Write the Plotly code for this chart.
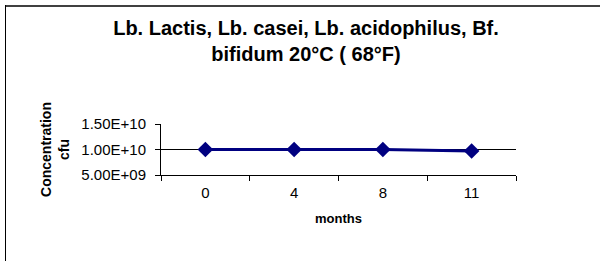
import plotly.graph_objects as go

# ---- data ----
months = ["0", "4", "8", "11"]
concentration = [1.0e10, 1.0e10, 1.0e10, 9.7e9]
y_tick_vals = [5.0e9, 1.0e10, 1.5e10]
y_tick_text = ["5.00E+09", "1.00E+10", "1.50E+10"]
grid_value = 1.0e10
title_text = "Lb. Lactis, Lb. casei, Lb. acidophilus, Bf.<br>bifidum 20°C ( 68°F)"

W, H = 600, 261
ML, MR, MT, MB = 161, 84, 124, 86
PW = W - ML - MR
PH = H - MT - MB

def px_x(x):
    return (x - ML) / PW

def px_y(y):
    return (H - MB - y) / PH

FONT = "Liberation Sans, Arial, sans-serif"

fig = go.Figure()
fig.add_trace(go.Scatter(
    x=months, y=concentration, mode="lines+markers",
    line=dict(color="#000080", width=3),
    marker=dict(symbol="diamond", size=12, color="#000080"),
    showlegend=False, cliponaxis=False,
))

shapes = [
    # gridline at 1.00E+10
    dict(type="line", xref="paper", yref="y", x0=0, x1=1, y0=grid_value, y1=grid_value,
         line=dict(color="#000000", width=1), layer="below"),
    # chart frame: top (grey) and left (black)
    dict(type="line", xref="paper", yref="paper", x0=px_x(5), x1=px_x(600),
         y0=px_y(6), y1=px_y(6), line=dict(color="#404040", width=2)),
    dict(type="line", xref="paper", yref="paper", x0=px_x(5.5), x1=px_x(5.5),
         y0=px_y(5), y1=px_y(262), line=dict(color="#000000", width=1)),
]

fig.update_layout(
    width=W, height=H,
    margin=dict(l=ML, r=MR, t=MT, b=MB, autoexpand=False),
    paper_bgcolor="white", plot_bgcolor="white",
    font=dict(family=FONT, color="black", size=14),
    title=dict(text=title_text, x=0.51, xref="container", y=1 - 35 / H,
               yref="container", yanchor="top",
               font=dict(family=FONT, size=20, color="black", weight="bold")),
    shapes=shapes,
    xaxis=dict(
        type="category", range=[-0.5, len(months) - 0.5], automargin=False,
        showline=True, linecolor="black", linewidth=1,
        ticks="outside", tickson="boundaries", ticklen=5, tickcolor="black",
        ticklabelstandoff=4,
        showgrid=False, zeroline=False,
        tickfont=dict(family=FONT, size=15, color="black"),
        title=dict(text="months", standoff=13,
                   font=dict(family=FONT, size=13, color="black", weight="bold")),
    ),
    yaxis=dict(
        range=[y_tick_vals[0], y_tick_vals[-1]], automargin=False,
        tickvals=y_tick_vals, ticktext=y_tick_text,
        showline=True, linecolor="black", linewidth=1,
        ticks="outside", ticklen=5, tickcolor="black", ticklabelstandoff=6,
        showgrid=False, zeroline=False,
        tickfont=dict(family=FONT, size=15, color="black"),
        title=dict(text="Concentration<br>cfu", standoff=8,
                   font=dict(family=FONT, size=14, color="black", weight="bold")),
    ),
)

fig.write_html("out.html",
               config={"displayModeBar": False},
               post_script="document.body.style.margin='0';document.body.style.padding='0';")
